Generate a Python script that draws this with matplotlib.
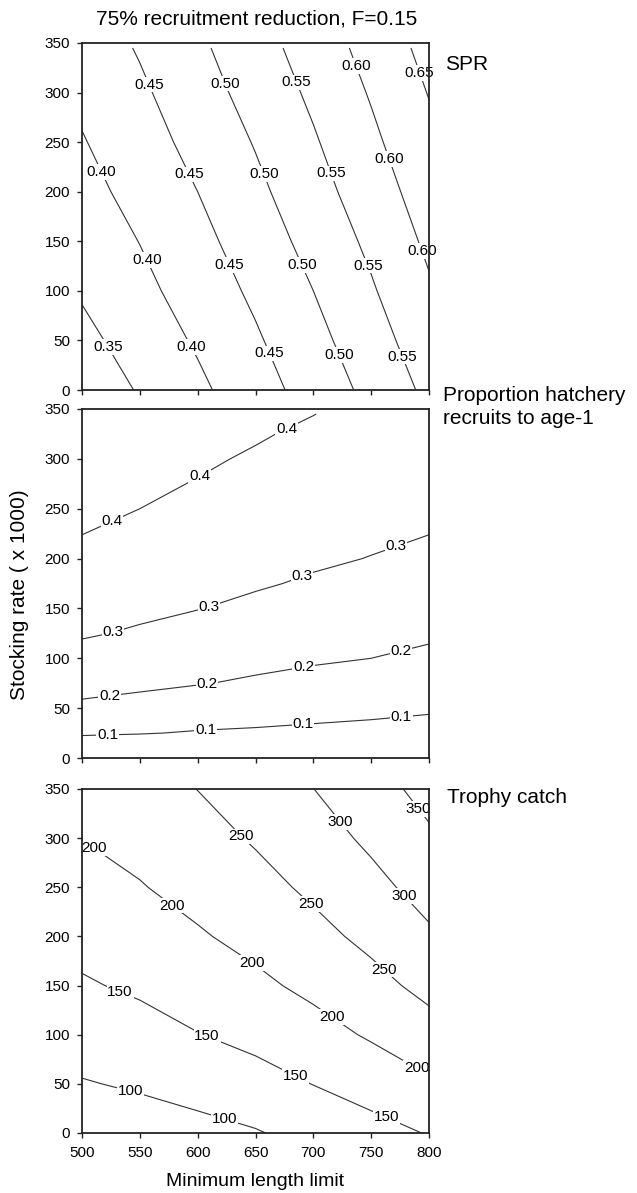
"""
plot.py
─────────────────────────────────────────────────────────────────────────────
Three stacked contour panels (SPR, proportion hatchery recruits, trophy
catch) over minimum length limit x stocking rate. Saves out.png.
─────────────────────────────────────────────────────────────────────────────
"""

import matplotlib
matplotlib.use("Agg")
import numpy as np
import matplotlib.pyplot as plt

plt.rcParams['font.family'] = ['Liberation Sans', 'DejaVu Sans']

# ── Shared x grid (minimum length limit, mm) ─────────────────────────────────
LENGTH_LIMIT = [500, 550, 600, 650, 700, 750, 800]

# ── Panel 1: SPR ─────────────────────────────────────────────────────────────
SPR_STOCKING = [0, 50, 100, 150, 200, 250, 300, 345]
SPR_VALUES = [
    [0.317, 0.354, 0.390, 0.429, 0.470, 0.513, 0.561],
    [0.337, 0.371, 0.406, 0.444, 0.485, 0.529, 0.578],
    [0.355, 0.387, 0.422, 0.459, 0.500, 0.545, 0.594],
    [0.370, 0.401, 0.436, 0.474, 0.516, 0.560, 0.609],
    [0.384, 0.416, 0.450, 0.489, 0.531, 0.576, 0.623],
    [0.397, 0.429, 0.465, 0.503, 0.545, 0.590, 0.638],
    [0.410, 0.442, 0.479, 0.518, 0.559, 0.604, 0.652],
    [0.422, 0.454, 0.491, 0.530, 0.572, 0.617, 0.665],
]
SPR_LEVELS = [0.35, 0.40, 0.45, 0.50, 0.55, 0.60, 0.65]
SPR_LABEL_AT = [
    (558, 308), (624, 309), (685, 310), (737, 327), (792, 320),
    (517, 220), (590, 216), (655, 217), (714, 218), (765, 233),
    (554, 130), (625, 125), (688, 125), (746, 125), (794, 140),
    (522, 43), (594, 43), (662, 37), (722, 35), (778, 34),
]

# ── Panel 2: proportion hatchery recruits to age-1 ───────────────────────────
HATCH_STOCKING = [0, 25, 50, 75, 100, 125, 150, 175, 200, 225, 250, 275,
                  300, 325, 345]
HATCH_VALUES = [
    [0.000, 0.000, 0.000, 0.000, 0.000, 0.000, 0.000],
    [0.111, 0.104, 0.094, 0.089, 0.083, 0.078, 0.073],
    [0.182, 0.167, 0.151, 0.139, 0.128, 0.119, 0.109],
    [0.232, 0.218, 0.204, 0.189, 0.173, 0.160, 0.147],
    [0.273, 0.254, 0.237, 0.223, 0.211, 0.200, 0.184],
    [0.308, 0.291, 0.271, 0.253, 0.238, 0.224, 0.212],
    [0.332, 0.316, 0.302, 0.283, 0.265, 0.249, 0.235],
    [0.355, 0.337, 0.321, 0.308, 0.291, 0.273, 0.257],
    [0.379, 0.358, 0.340, 0.325, 0.311, 0.298, 0.279],
    [0.401, 0.379, 0.359, 0.342, 0.326, 0.313, 0.301],
    [0.414, 0.400, 0.378, 0.359, 0.342, 0.327, 0.314],
    [0.427, 0.412, 0.397, 0.376, 0.357, 0.341, 0.327],
    [0.441, 0.424, 0.409, 0.393, 0.373, 0.356, 0.340],
    [0.454, 0.436, 0.420, 0.406, 0.389, 0.370, 0.353],
    [0.464, 0.445, 0.429, 0.414, 0.401, 0.381, 0.364],
]
HATCH_LEVELS = [0.1, 0.2, 0.3, 0.4]
HATCH_LABEL_AT = [
    (526, 237), (603, 280), (678, 328),
    (527, 125), (610, 151), (691, 180), (772, 211),
    (524, 60), (608, 74), (692, 88), (776, 106),
    (522, 23), (607, 28), (691, 34), (776, 41),
]

# ── Panel 3: trophy catch ────────────────────────────────────────────────────
TROPHY_STOCKING = [0, 50, 100, 150, 200, 250, 300, 350]
TROPHY_VALUES = [
    [73.2, 78.3, 85.8, 96.7, 115.6, 133.3, 152.5],
    [97.2, 105.4, 117.3, 132.2, 150.9, 170.1, 193.4],
    [121.2, 132.6, 148.7, 163.4, 182.4, 205.3, 230.7],
    [145.2, 157.3, 172.2, 190.3, 211.0, 234.9, 263.6],
    [164.5, 177.4, 195.4, 213.4, 236.0, 261.8, 292.7],
    [182.6, 197.6, 214.5, 234.5, 258.9, 286.0, 318.3],
    [200.6, 213.3, 232.6, 254.7, 279.3, 309.1, 342.8],
    [214.9, 228.5, 250.6, 272.7, 299.6, 330.9, 365.3],
]
TROPHY_LEVELS = [100, 150, 200, 250, 300, 350]
TROPHY_LABEL_AT = [
    (542, 42), (623, 14),
    (532, 141), (608, 98), (684, 56), (763, 16),
    (511, 291), (578, 231), (646, 171), (715, 116), (788, 63),
    (638, 302), (697, 232), (760, 165),
    (723, 316), (778, 240),
    (790, 329),
]

# ── Figure geometry (pixels of the 637 x 1193 output) ────────────────────────
W, H = 637, 1193
AX_LEFT, AX_RIGHT = 82, 429
PANELS = [(43, 390), (409, 758), (789, 1133)]   # top, bottom in px


def px_axes(top, bottom):
    return [AX_LEFT / W, 1 - bottom / H, (AX_RIGHT - AX_LEFT) / W, (bottom - top) / H]


def draw_panel(ax, stocking, values, levels, fmt, label_at):
    X, Y = np.meshgrid(LENGTH_LIMIT, stocking)
    Z = np.array(values)
    cs = ax.contour(X, Y, Z, levels=levels, colors='#333333', linewidths=0.8)
    texts = ax.clabel(cs, inline=False, fmt=fmt, fontsize=11,
                      manual=label_at, colors='black')
    # horizontal labels sitting on a white patch that hides the line
    for t in texts:
        t.set_rotation(0)
        t.set_bbox(dict(facecolor='white', edgecolor='none', pad=0.6))
        t.set_clip_on(False)
        t.set_zorder(2.4)

    ax.set_xlim(500, 800)
    ax.set_ylim(0, 350)
    ax.set_xticks(LENGTH_LIMIT)
    ax.set_yticks(range(0, 351, 50))
    ax.tick_params(direction='out', length=3.5, width=1, labelsize=11,
                   colors='#222222', labelcolor='black')
    ax.tick_params(axis='y', pad=5)
    ax.tick_params(axis='x', pad=6)
    for s in ax.spines.values():
        s.set_linewidth(1.3)
        s.set_color('#222222')
        s.set_zorder(3)


# ══════════════════════════════════════════════════════════════════════════════
# MAIN
# ══════════════════════════════════════════════════════════════════════════════

fig = plt.figure(figsize=(W / 100, H / 100), dpi=100)

ax1 = fig.add_axes(px_axes(*PANELS[0]))
ax2 = fig.add_axes(px_axes(*PANELS[1]))
ax3 = fig.add_axes(px_axes(*PANELS[2]))

draw_panel(ax1, SPR_STOCKING, SPR_VALUES, SPR_LEVELS, '%.2f', SPR_LABEL_AT)
draw_panel(ax2, HATCH_STOCKING, HATCH_VALUES, HATCH_LEVELS, '%.1f', HATCH_LABEL_AT)
draw_panel(ax3, TROPHY_STOCKING, TROPHY_VALUES, TROPHY_LEVELS, '%d', TROPHY_LABEL_AT)

ax1.tick_params(axis='x', labelbottom=False)
ax2.tick_params(axis='x', labelbottom=False)
ax3.set_xlabel("Minimum length limit", fontsize=14, labelpad=9)

# titles and side labels
fig.text(257 / W, 1 - 19 / H, "75% recruitment reduction, F=0.15",
         ha='center', va='center', fontsize=15)
fig.text(445 / W, 1 - 70.5 / H, "SPR", ha='left', va='baseline', fontsize=15)
fig.text(443 / W, 1 - 386 / H, "Proportion hatchery\nrecruits to age-1",
         ha='left', va='top', fontsize=15, linespacing=1.25)
fig.text(447 / W, 1 - 803 / H, "Trophy catch", ha='left', va='baseline',
         fontsize=15)
fig.text(20 / W, 1 - 595 / H, "Stocking rate ( x 1000)", rotation=90,
         ha='center', va='center', fontsize=15)

fig.savefig("out.png", dpi=100)
plt.close(fig)
